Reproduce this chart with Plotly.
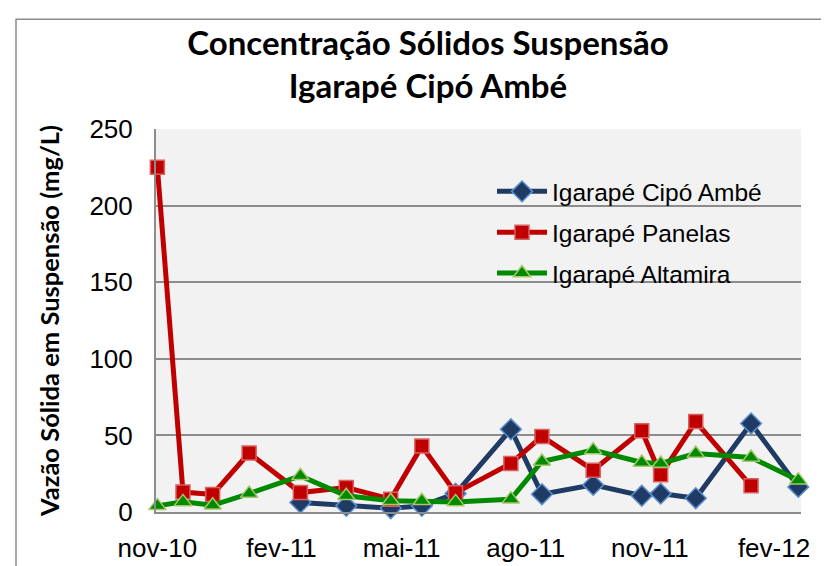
import plotly.graph_objects as go

# ---- data ----
dates_all = ["2010-11-01", "2010-11-20", "2010-12-12", "2011-01-08", "2011-02-15",
             "2011-03-21", "2011-04-23", "2011-05-16", "2011-06-10", "2011-07-21",
             "2011-08-13", "2011-09-20", "2011-10-26", "2011-11-09", "2011-12-05",
             "2012-01-15", "2012-02-19"]

cipo_dates = dates_all[4:]
cipo_vals = [6.2, 4.0, 2.5, 4.0, 12.0, 54.0, 11.6, 17.7, 10.6, 12.0, 9.0, 57.8, 16.4]

panelas_dates = dates_all[:16]
panelas_vals = [225, 13.0, 11.5, 38.5, 12.7, 16.0, 8.4, 43.0, 12.5, 31.7,
                49.3, 27.3, 53.0, 24.3, 59.0, 17.1]

altamira_dates = dates_all
altamira_vals = [4.0, 6.6, 4.4, 12.0, 23.6, 10.6, 7.3, 7.3, 6.6, 8.4,
                 33.0, 40.4, 32.3, 31.7, 38.2, 35.6, 20.8]

tick_vals = ["2010-11-01", "2011-02-01", "2011-05-01", "2011-08-01", "2011-11-01", "2012-02-01"]
tick_text = ["nov-10", "fev-11", "mai-11", "ago-11", "nov-11", "fev-12"]

fig = go.Figure()

fig.add_trace(go.Scatter(
    x=cipo_dates, y=cipo_vals, mode="lines+markers", name="Igarapé Cipó Ambé",
    legendgroup="a", cliponaxis=False,
    line=dict(color="#1F3B64", width=5),
    marker=dict(symbol="diamond", size=16, color="#1F3B64",
                line=dict(color="#5B8FD0", width=1.5)),
))
fig.add_trace(go.Scatter(
    x=panelas_dates, y=panelas_vals, mode="lines+markers", name="Igarapé Panelas",
    legendgroup="b", cliponaxis=False,
    line=dict(color="#C00000", width=5),
    marker=dict(symbol="square", size=14, color="#C00000",
                line=dict(color="#D86060", width=1.5)),
))
fig.add_trace(go.Scatter(
    x=altamira_dates, y=altamira_vals, mode="lines+markers", name="Igarapé Altamira",
    legendgroup="c", cliponaxis=False,
    line=dict(color="#008A00", width=5),
    marker=dict(symbol="triangle-up", size=15, color="#008A00",
                line=dict(color="#A6C86A", width=1.5)),
))

fig.update_layout(
    width=829, height=566,
    margin=dict(l=148, r=36, t=121, b=61.5),
    paper_bgcolor="white",
    plot_bgcolor="#F2F2F2",
    title=dict(
        text="<b>Concentração Sólidos Suspensão<br>Igarapé Cipó Ambé</b>",
        x=420 / 829, xanchor="center",
        y=1 - 47 / 566, yanchor="top",
        font=dict(family="Lato", size=33, color="black"),
    ),
    legend=dict(
        x=(484 - 148) / 645, y=(504.5 - 161) / 383.5,
        xanchor="left", yanchor="top",
        bgcolor="rgba(0,0,0,0)",
        font=dict(family="Liberation Sans, Arial", size=24.5, color="black"),
        itemwidth=50,
        traceorder="grouped",
        tracegroupgap=6,
    ),
    showlegend=True,
    shapes=[dict(type="rect", xref="paper", yref="paper",
                 x0=(8 - 148) / 645, x1=(840 - 148) / 645,
                 y0=(504.5 - 575) / 383.5, y1=(504.5 - 11) / 383.5,
                 line=dict(color="#898989", width=1.5), fillcolor="rgba(0,0,0,0)",
                 layer="below")],
)

fig.update_xaxes(
    type="date", automargin=False,
    range=["2010-10-31", "2012-02-21"],
    tickvals=tick_vals, ticktext=tick_text,
    showgrid=False, zeroline=False,
    showline=True, linecolor="#8C8C8C", linewidth=2,
    ticks="", ticklabelstandoff=12,
    tickfont=dict(family="Liberation Sans, Arial", size=26, color="black"),
)
fig.update_yaxes(
    automargin=False,
    range=[0, 250], dtick=50,
    showgrid=True, gridcolor="#8C8C8C", gridwidth=2,
    zeroline=False,
    showline=True, linecolor="#8C8C8C", linewidth=2,
    ticks="", ticklabelstandoff=16,
    tickfont=dict(family="Liberation Sans, Arial", size=26, color="black"),
    title=dict(text="<b>Vazão Sólida em Suspensão (mg/L)</b>",
               font=dict(family="Lato", size=25.5, color="black"), standoff=22),
)

fig.write_html("out.html")
